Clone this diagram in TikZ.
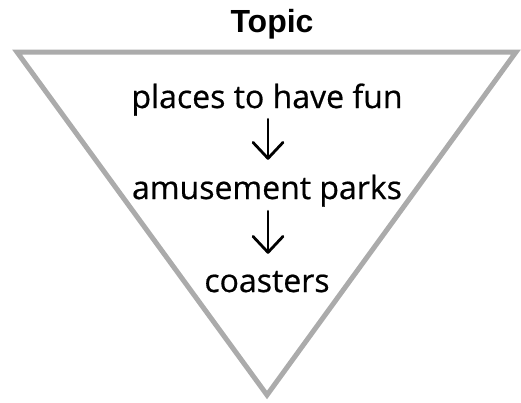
\documentclass[tikz,border=0pt]{standalone}
\usepackage{fontspec}
\setmainfont[FakeBold=0.6]{Open Sans}
\newfontfamily\titlefont{Liberation Sans}
\usetikzlibrary{arrows.meta}
\definecolor{tgray}{HTML}{ABABAB}
\tikzset{
  tri/.style={draw=tgray, line width=5pt, line join=miter},
  lbl/.style={inner sep=0pt, anchor=base, font=\fontsize{32}{36}\selectfont, text height=24pt, text depth=7pt},
  ttl/.style={inner sep=0pt, anchor=base, font=\titlefont\bfseries\fontsize{32}{36}\selectfont},
  arr/.style={line width=2.8pt, line cap=round, -{Straight Barb[length=16pt, width=30pt, line cap=round, line join=round]}}
}
\begin{document}
\begin{tikzpicture}[x=1pt, y=-1pt]
\useasboundingbox (0,0) rectangle (521,402);
\draw[tri] (17,52) -- (516,52) -- (267,395) -- cycle;
\node[ttl] (title) at (272,32) {Topic};
\node[lbl] (t1) at (267,108) {places to have fun};
\node[lbl] (t2) at (267,199) {amusement parks};
\node[lbl] (t3) at (267,292) {coasters};
\draw[arr, shorten <=4pt, shorten >=15pt] ([xshift=1pt]t1.south) -- ([xshift=1pt]t2.north);
\draw[arr, shorten <=5pt, shorten >=14pt] ([xshift=1pt]t2.south) -- ([xshift=1pt]t3.north);
\end{tikzpicture}
\end{document}
